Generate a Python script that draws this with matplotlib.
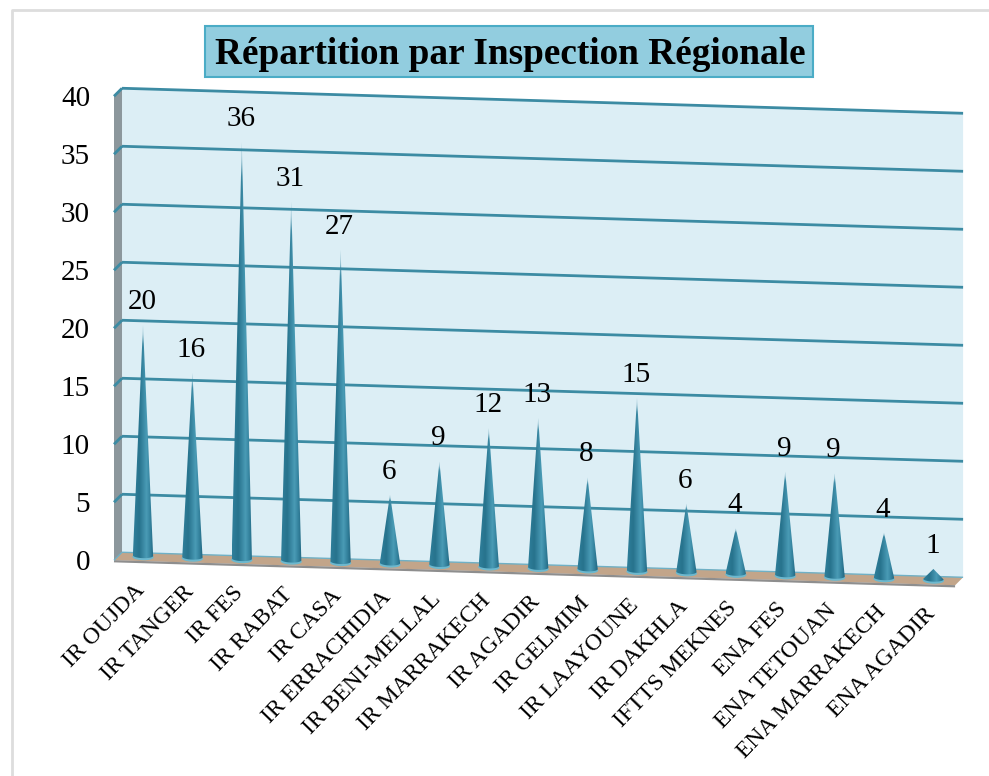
#! /usr/bin/env python3

# Imports
import matplotlib
matplotlib.use("Agg")
import matplotlib.pyplot as plt
import numpy as np
from matplotlib.colors import LinearSegmentedColormap
from matplotlib.patches import Ellipse, Polygon, Rectangle
from matplotlib.transforms import Affine2D

# Data
categories = ["IR OUJDA", "IR TANGER", "IR FES", "IR RABAT", "IR CASA",
              "IR ERRACHIDIA", "IR BENI-MELLAL", "IR MARRAKECH", "IR AGADIR",
              "IR GELMIM", "IR LAAYOUNE", "IR DAKHLA", "IFTTS MEKNES",
              "ENA FES", "ENA TETOUAN", "ENA MARRAKECH", "ENA AGADIR"]
values = [20, 16, 36, 31, 27, 6, 9, 12, 13, 8, 15, 6, 4, 9, 9, 4, 1]
y_ticks = [0, 5, 10, 15, 20, 25, 30, 35, 40]
title = "Répartition par Inspection Régionale"

# Configuration
plt.rcParams["font.family"] = ["Liberation Serif", "DejaVu Serif"]
wall_color = "#DCEEF5"
grid_color = "#3C8BA3"
floor_color = "#C2A58A"
side_color = "#8C979C"
cone_half = 0.205
x_lo, x_hi = -0.506, 16.52

fig = plt.figure(figsize=(9.89, 7.76), dpi=100)
ax = fig.add_axes([0, 0, 1, 1])
ax.set_axis_off()

# The chart is a fake 3D one: category/value space is sheared onto the canvas.
shear = Affine2D.from_values(49.4, 1.47, 0, -11.6, 143, 557)
canvas = ax.transData
mid = shear + canvas
back = shear + Affine2D().translate(4, -4) + canvas
front = shear + Affine2D().translate(-4, 4) + canvas
y_top = y_ticks[-1]

# Walls and floor
ax.add_patch(Polygon([(x_lo, 0), (x_hi, 0), (x_hi, y_top), (x_lo, y_top)],
                     transform=back, fc=wall_color, ec="none", zorder=1))


def side_points(v0, v1):
    # left wall, from the front edge to the back edge
    to_px = (front + canvas.inverted()).transform([(x_lo, v0), (x_lo, v1)])
    to_px2 = (back + canvas.inverted()).transform([(x_lo, v1), (x_lo, v0)])
    return np.vstack([to_px, to_px2])


ax.add_patch(Polygon(side_points(0, y_top), transform=canvas, fc=side_color,
                     ec="none", zorder=1))
floor_front = (front + canvas.inverted()).transform([(x_lo, 0), (x_hi, 0)])
floor_back = (back + canvas.inverted()).transform([(x_hi, 0), (x_lo, 0)])
ax.add_patch(Polygon(np.vstack([floor_front, floor_back]), transform=canvas,
                     fc=floor_color, ec="none", zorder=1.5))
ax.plot(floor_front[:, 0], floor_front[:, 1] + 1, color="#8E8E8E", lw=1.6,
        zorder=1.6, solid_capstyle="butt")

# Gridlines, the one on the floor is thinner and paler
for v in y_ticks:
    lw = 2 if v > 0 else 1
    col = grid_color if v > 0 else "#6FB0C5"
    ax.plot([x_lo, x_hi], [v, v], transform=back, color=col, lw=lw,
            zorder=2, solid_capstyle="butt")
    side = side_points(v, v)[1:3]
    ax.plot(side[:, 0], side[:, 1], color=col, lw=lw, zorder=2,
            solid_capstyle="butt")

# y tick labels sit left of the side wall
tick_trans = shear + Affine2D().translate(-28, 7) + canvas
for v in y_ticks:
    ax.text(x_lo, v, str(v), transform=tick_trans, ha="right", va="center",
            fontsize=21, color="black", zorder=5)

# Cones: shaded image clipped to a triangle, with a light rim ellipse at the base
cone_cmap = LinearSegmentedColormap.from_list(
    "cone", [(0, "#2F7F9A"), (0.3, "#27738D"), (0.65, "#4A9BB6"),
             (0.85, "#327F9A"), (1, "#1F6580")])
shade = cone_cmap(np.linspace(0, 1, 64))
ell_h = 6.5 / 11.6
ell_w = 2 * cone_half + 0.02
for i, v in enumerate(values):
    rim = Ellipse((i, 0), ell_w, ell_h, transform=mid, fc="#6DB8CE", ec="none",
                  zorder=3)
    ax.add_patch(rim)

    rows = 80
    img = np.repeat(shade[np.newaxis, :, :], rows, axis=0)
    fade = np.clip(np.linspace(0, 1, rows) / 0.08, 0.4, 1)
    if v < 3:
        fade = np.ones(rows)
    img[:, :, 3] = fade[:, np.newaxis]
    im = ax.imshow(img, extent=(i - cone_half, i + cone_half, -0.4, v),
                   transform=mid, origin="upper", aspect="auto", zorder=3.2,
                   interpolation="bilinear")
    t = np.linspace(np.pi, 2 * np.pi, 25)
    arc_x = i + cone_half * np.cos(t)
    arc_y = 0.12 + 0.22 * np.sin(t)
    clip = Polygon(np.vstack([np.column_stack([arc_x, arc_y]), [(i, v)]]),
                   transform=mid)
    im.set_clip_path(clip)

# Data labels
label_trans = shear + Affine2D().translate(-1, -23) + canvas
for i, v in enumerate(values):
    ax.text(i, v, str(v), transform=label_trans, ha="center", va="center",
            fontsize=21, color="black", zorder=6)

# Category labels, rotated and ending just under their cone
cat_trans = shear + Affine2D().translate(-2, 30) + canvas
for i, name in enumerate(categories):
    ax.text(i, 0, name, transform=cat_trans, rotation=46, ha="right",
            va="center", rotation_mode="anchor", fontsize=17, color="black",
            zorder=6)

# Title box
ax.add_patch(Rectangle((205, 26), 608, 51, fc="#92CDDF", ec="#4BACC6", lw=1.5,
                       zorder=5))
ax.text(510, 54, title, ha="center", va="center", fontsize=26.8,
        fontweight="bold", color="black", zorder=6)

# Chart border
ax.plot([12, 12, 989], [776, 10, 10], color="#DDDDDD", lw=2, zorder=0)

ax.set_xlim(0, 989)
ax.set_ylim(776, 0)
fig.savefig("out.png", dpi=100)
